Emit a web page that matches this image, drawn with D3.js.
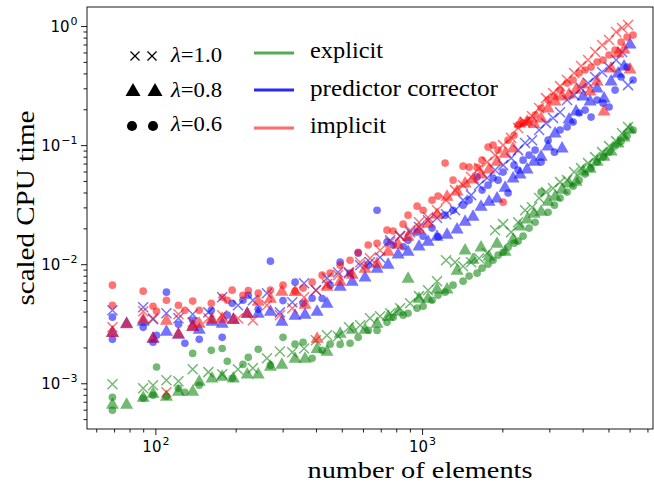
<!DOCTYPE html>
<html>
<head>
<meta charset="utf-8">
<script src="https://cdn.jsdelivr.net/npm/d3@7/dist/d3.min.js"></script>
<style>
body { margin: 0; background: #fff; }
</style>
</head>
<body>
<div id="chart"></div>
<script>
// Number of elements for each run, one list per lambda
var elems10 = [69, 90, 98, 110, 122, 138, 158, 178, 204, 232, 262, 293, 326, 361, 400, 440, 484, 532, 586, 638,
    696, 759, 827, 902, 974, 1053, 1138, 1230, 1330, 1425, 1527, 1636, 1753, 1878, 2013, 2157, 2291, 2434, 2585, 2747,
    2917, 3099, 3293, 3498, 3715, 3946, 4193, 4456, 4733, 5028, 5342, 5623, 5922];
var elems08 = [69, 78, 90, 98, 110, 122, 138, 146, 163, 178, 196, 221, 243, 270, 298, 334, 364, 404, 440, 493,
    547, 611, 678, 746, 813, 886, 974, 1053, 1138, 1241, 1353, 1450, 1553, 1664, 1783, 1911, 2048, 2194, 2331, 2476,
    2630, 2795, 2969, 3154, 3350, 3558, 3781, 4016, 4266, 4532, 4814, 5114, 5433, 5722, 6026];
var elems06 = [69, 69, 90, 98, 101, 110, 122, 129, 138, 146, 162, 178, 186, 194, 213, 223, 243, 270, 301, 334,
    358, 387, 422, 452, 493, 537, 576, 628, 678, 739, 779, 849, 886, 958, 1009, 1090, 1148, 1220, 1307, 1425,
    1501, 1608, 1679, 1768, 1846, 1928, 2013, 2102, 2213, 2291, 2392, 2520, 2654, 2795, 2969, 3136, 3293, 3498, 3684, 3880,
    4087, 4303, 4532, 4773, 5027, 5294, 5577, 5873, 6184];

// Scaled CPU time, explicit scheme
var explicit10 = [0.000981, 0.000908, 0.000962, 0.00106, 0.00104, 0.00131, 0.00124, 0.00119, 0.00131, 0.00134,
    0.00162, 0.00185, 0.00182, 0.00196, 0.00230, 0.00253, 0.00248, 0.00295, 0.00307, 0.00352,
    0.00366, 0.00387, 0.00427, 0.00470, 0.00539, 0.00605, 0.00720, 0.0108, 0.0104, 0.00962,
    0.0104, 0.0112, 0.0124, 0.0193, 0.0217, 0.0186, 0.0225, 0.0284, 0.0301, 0.0359,
    0.0403, 0.0435, 0.0489, 0.0508, 0.0594, 0.0641, 0.0706, 0.0793, 0.0873, 0.0981, 0.108, 0.126, 0.142];
var explicit08 = [0.000680, 0.000680, 0.000778, 0.000840, 0.000793, 0.000873, 0.000873, 0.00106, 0.00113, 0.00117,
    0.00113, 0.00122, 0.00122, 0.00142, 0.00147, 0.00165, 0.00165, 0.00200, 0.00189, 0.00268,
    0.00290, 0.00290, 0.00325, 0.00373, 0.00410, 0.00778, 0.00528, 0.00528, 0.00630, 0.00630,
    0.00908, 0.0134, 0.0112, 0.0142, 0.0119, 0.0153, 0.0131, 0.0165, 0.0213, 0.0244,
    0.0273, 0.0284, 0.0345, 0.0380, 0.0435, 0.0489, 0.0508, 0.0617, 0.0653, 0.0748,
    0.0824, 0.0908, 0.106, 0.119, 0.139];
var explicit06 = [0.000763, 0.000593, 0.000749, 0.000793, 0.00137, 0.000778, 0.000908, 0.000840, 0.00178, 0.000962,
    0.00189, 0.00196, 0.00153, 0.00110, 0.00144, 0.00165, 0.00193, 0.00142, 0.00243, 0.00213,
    0.00221, 0.00162, 0.00189, 0.00213, 0.00212, 0.00217, 0.00243, 0.00279, 0.00278, 0.00325,
    0.00359, 0.00373, 0.00387, 0.00427, 0.00443, 0.00498, 0.00549, 0.00582, 0.00667, 0.00720,
    0.00794, 0.00841, 0.00926, 0.0100, 0.0108, 0.0119, 0.0126, 0.0139, 0.0150, 0.0156,
    0.0172, 0.0201, 0.0225, 0.0403, 0.0273, 0.0313, 0.0359, 0.0403, 0.0452, 0.0508,
    0.0571, 0.0641, 0.0720, 0.0793, 0.0873, 0.0981, 0.108, 0.119, 0.134];

// Scaled CPU time, predictor corrector
var pc10 = [0.00410, 0.00435, 0.00345, 0.00387, 0.00352, 0.00380, 0.00394, 0.00528, 0.00452, 0.00498,
    0.00571, 0.00394, 0.00479, 0.00693, 0.00605, 0.00764, 0.00857, 0.00841, 0.00981, 0.0104,
    0.0114, 0.0159, 0.0172, 0.0186, 0.0205, 0.0234, 0.0244, 0.0263, 0.0284, 0.0345,
    0.0380, 0.0461, 0.0529, 0.0617, 0.0679, 0.0778, 0.0908, 0.104, 0.110, 0.134,
    0.153, 0.169, 0.189, 0.239, 0.263, 0.301, 0.332, 0.373, 0.411, 0.452, 0.518, 0.605, 0.319];
var pc08 = [0.00274, 0.00325, 0.00338, 0.00243, 0.00279, 0.00263, 0.00307, 0.00290, 0.00338, 0.00325,
    0.00352, 0.00394, 0.00394, 0.00410, 0.00338, 0.00380, 0.00387, 0.00410, 0.00479, 0.00667,
    0.00734, 0.00794, 0.00944, 0.0102, 0.0124, 0.0131, 0.0145, 0.0159, 0.0175, 0.0182,
    0.0201, 0.0234, 0.0258, 0.0313, 0.0345, 0.0366, 0.0452, 0.0539, 0.0582, 0.0641,
    0.0748, 0.0824, 0.100, 0.129, 0.0962, 0.169, 0.197, 0.263, 0.239, 0.307,
    0.253, 0.352, 0.411, 0.470, 0.720];
var pc06 = [0.00359, 0.00234, 0.00295, 0.00221, 0.00253, 0.00582, 0.00313, 0.00217, 0.00338, 0.00234,
    0.00410, 0.00243, 0.00373, 0.00470, 0.00498, 0.00549, 0.00418, 0.0106, 0.00495, 0.00706,
    0.00470, 0.00518, 0.00515, 0.00667, 0.0104, 0.00841, 0.0124, 0.00981, 0.0284, 0.0153,
    0.0145, 0.0140, 0.0159, 0.0186, 0.0172, 0.0201, 0.0170, 0.0258, 0.0284, 0.0313,
    0.0345, 0.0539, 0.0419, 0.0461, 0.0529, 0.0508, 0.0594, 0.0396, 0.0679, 0.0617,
    0.0748, 0.0824, 0.0908, 0.0720, 0.110, 0.0873, 0.134, 0.142, 0.156, 0.186,
    0.197, 0.172, 0.239, 0.225, 0.209, 0.290, 0.373, 0.452, 0.352];

// Scaled CPU time, implicit scheme
var implicit10 = [0.00295, 0.00402, 0.00352, 0.000840, 0.00380, 0.00325, 0.00352, 0.00373, 0.00352, 0.00338,
    0.00452, 0.00373, 0.00427, 0.00528, 0.00605, 0.00680, 0.00809, 0.00857, 0.0104, 0.0112,
    0.0131, 0.0153, 0.0172, 0.0193, 0.0225, 0.0248, 0.0284, 0.0345, 0.0419, 0.0461,
    0.0539, 0.0641, 0.0720, 0.0824, 0.100, 0.115, 0.139, 0.156, 0.175, 0.205,
    0.248, 0.274, 0.313, 0.352, 0.403, 0.461, 0.518, 0.605, 0.692, 0.763, 0.890, 0.962, 1.02];
var implicit08 = [0.00272, 0.00322, 0.00352, 0.00245, 0.00345, 0.00265, 0.00305, 0.00325, 0.00352, 0.00359,
    0.00350, 0.00394, 0.00498, 0.00528, 0.00605, 0.00600, 0.00470, 0.00243, 0.00667, 0.00734,
    0.00841, 0.00944, 0.0104, 0.0131, 0.0150, 0.0175, 0.0201, 0.0225, 0.0268, 0.0380,
    0.0419, 0.0489, 0.0529, 0.0582, 0.0641, 0.0748, 0.0873, 0.0962, 0.156, 0.162,
    0.155, 0.172, 0.209, 0.239, 0.263, 0.274, 0.301, 0.332, 0.290, 0.352,
    0.197, 0.452, 0.605, 0.654, 0.444];
var implicit06 = [0.00667, 0.00452, 0.00594, 0.00443, 0.00402, 0.00498, 0.00452, 0.00410, 0.00490, 0.00410,
    0.00470, 0.00528, 0.00498, 0.00605, 0.00549, 0.00600, 0.00571, 0.00605, 0.00667, 0.00594,
    0.00630, 0.00706, 0.00809, 0.00841, 0.00981, 0.0108, 0.0126, 0.0145, 0.0150, 0.0193,
    0.0190, 0.0217, 0.0258, 0.0307, 0.0284, 0.0345, 0.0373, 0.0706, 0.0508, 0.0666,
    0.0653, 0.0650, 0.0748, 0.0962, 0.100, 0.0908, 0.0332, 0.110, 0.121, 0.147,
    0.153, 0.162, 0.179, 0.205, 0.239, 0.258, 0.290, 0.332, 0.352, 0.403,
    0.427, 0.452, 0.498, 0.518, 0.571, 0.629, 0.733, 0.808, 0.840];

var methods = ["explicit", "predictor corrector", "implicit"];
var lambdas = ["1.0", "0.8", "0.6"];
var xMajor = [100, 1000];
var yMajor = [1e-3, 1e-2, 1e-1, 1];

var series = [
    {method: 0, lambda: 0, n: elems10, t: explicit10},
    {method: 0, lambda: 1, n: elems08, t: explicit08},
    {method: 0, lambda: 2, n: elems06, t: explicit06},
    {method: 1, lambda: 0, n: elems10, t: pc10},
    {method: 1, lambda: 1, n: elems08, t: pc08},
    {method: 1, lambda: 2, n: elems06, t: pc06},
    {method: 2, lambda: 0, n: elems10, t: implicit10},
    {method: 2, lambda: 1, n: elems08, t: implicit08},
    {method: 2, lambda: 2, n: elems06, t: implicit06}
];

var colors = ["rgb(0, 128, 0)", "rgb(0, 0, 255)", "rgb(255, 0, 0)"];
var lineColors = ["rgb(85, 170, 85)", "rgb(40, 40, 245)", "rgb(255, 105, 105)"];
var alpha = 0.55;

var width = 654, height = 487;
var box = {left: 87, top: 7, right: 653, bottom: 429};
var serif = "'Liberation Serif', 'DejaVu Serif', serif";
var sans = "'DejaVu Sans', sans-serif";

var svg = d3.select("#chart").append("svg")
    .attr("width", width)
    .attr("height", height)
    .style("display", "block");

var x = d3.scaleLog().domain([55.4, 7345]).range([box.left, box.right]);
var y = d3.scaleLog().domain([4.13e-4, 1.445]).range([box.bottom, box.top]);

// 2..9 times each power of ten inside the domain
function minorTicks(scale) {
    var dom = scale.domain(), out = [];
    for (var e = Math.floor(Math.log10(dom[0])); e <= Math.ceil(Math.log10(dom[1])); e++) {
        for (var k = 2; k <= 9; k++) {
            var v = k * Math.pow(10, e);
            if (v >= dom[0] && v <= dom[1]) out.push(v);
        }
    }
    return out;
}

// Axes
var gxMinor = svg.append("g").attr("transform", "translate(0," + box.bottom + ")")
    .call(d3.axisBottom(x).tickValues(minorTicks(x)).tickSize(3.5).tickFormat(""));
var gxMajor = svg.append("g").attr("transform", "translate(0," + box.bottom + ")")
    .call(d3.axisBottom(x).tickValues(xMajor).tickSize(6).tickFormat(""));
var gyMinor = svg.append("g").attr("transform", "translate(" + box.left + ",0)")
    .call(d3.axisLeft(y).tickValues(minorTicks(y)).tickSize(3.5).tickFormat(""));
var gyMajor = svg.append("g").attr("transform", "translate(" + box.left + ",0)")
    .call(d3.axisLeft(y).tickValues(yMajor).tickSize(6).tickFormat(""));

[gxMinor, gxMajor, gyMinor, gyMajor].forEach(function(g) {
    g.select(".domain").remove();
    g.selectAll(".tick line").attr("stroke", "#000").attr("stroke-width", 0.9);
});

// Tick labels as 10 with a superscript exponent
gxMajor.selectAll(".tick").append("text")
    .attr("y", 23)
    .attr("text-anchor", "middle")
    .style("font-family", sans)
    .style("font-size", "15px")
    .attr("fill", "#000")
    .each(function(d) {
        var t = d3.select(this);
        t.append("tspan").text("10");
        t.append("tspan").attr("dy", -7).attr("dx", 1).style("font-size", "11px")
            .text(String(Math.round(Math.log10(d))));
    });

gyMajor.selectAll(".tick").append("text")
    .attr("x", -9.5)
    .attr("dy", "0.35em")
    .attr("text-anchor", "end")
    .style("font-family", sans)
    .style("font-size", "15px")
    .attr("fill", "#000")
    .each(function(d) {
        var t = d3.select(this);
        var e = Math.round(Math.log10(d));
        t.append("tspan").text("10");
        t.append("tspan").attr("dy", -7).attr("dx", 1).style("font-size", "11px")
            .text(e < 0 ? "\u2212" + (-e) : String(e));
    });

// Frame
svg.append("rect")
    .attr("x", box.left)
    .attr("y", box.top)
    .attr("width", box.right - box.left)
    .attr("height", box.bottom - box.top)
    .attr("fill", "none")
    .attr("stroke", "#000")
    .attr("stroke-width", 0.9);

// Marker shapes for the three lambda values
var shapes = [
    "M-5,-5L5,5M-5,5L5,-5",
    "M0,-6L6.5,5.5L-6.5,5.5Z",
    d3.symbol().type(d3.symbolCircle).size(46)()
];

function styleMarker(sel, s, c) {
    if (s === 0) {
        sel.attr("fill", "none").attr("stroke", c).attr("stroke-width", 1.5).attr("stroke-opacity", alpha);
    } else {
        sel.attr("fill", c).attr("fill-opacity", alpha).attr("stroke", "none");
    }
}

var plot = svg.append("g");
series.forEach(function(s) {
    var pts = d3.zip(s.n, s.t);
    plot.append("g").selectAll("path")
        .data(pts)
        .join("path")
        .attr("d", shapes[s.lambda])
        .attr("transform", function(d) { return "translate(" + x(d[0]) + "," + y(d[1]) + ")"; })
        .call(styleMarker, s.lambda, colors[s.method]);
});

// Axis labels
svg.append("text")
    .attr("x", 420)
    .attr("y", 478)
    .attr("text-anchor", "middle")
    .attr("textLength", 225)
    .attr("lengthAdjust", "spacingAndGlyphs")
    .style("font-family", serif)
    .style("font-size", "23px")
    .text("number of elements");

svg.append("text")
    .attr("transform", "translate(34,208) rotate(-90)")
    .attr("text-anchor", "middle")
    .attr("textLength", 195)
    .attr("lengthAdjust", "spacingAndGlyphs")
    .style("font-family", serif)
    .style("font-size", "26px")
    .text("scaled CPU time");

// Legend for lambda (marker shape)
var legRows = [56, 90, 126];
var legBase = [62, 97, 131];
var legendMarkers = [
    "M-4.5,-4.5L4.5,4.5M-4.5,4.5L4.5,-4.5",
    "M0,-7L7.5,6L-7.5,6Z",
    d3.symbol().type(d3.symbolCircle).size(80)()
];
var markerX = [[135, 152], [133, 155], [132, 153]];
var legL = svg.append("g");
lambdas.forEach(function(l, i) {
    markerX[i].forEach(function(mx) {
        var m = legL.append("path")
            .attr("d", legendMarkers[i])
            .attr("transform", "translate(" + mx + "," + legRows[i] + ")");
        if (i === 0) m.attr("fill", "none").attr("stroke", "#000").attr("stroke-width", 1.3);
        else m.attr("fill", "#000");
    });
    var t = legL.append("text")
        .attr("x", 171)
        .attr("y", legBase[i])
        .attr("textLength", 51)
        .attr("lengthAdjust", "spacingAndGlyphs")
        .style("font-family", serif)
        .style("font-size", "21px");
    t.append("tspan").style("font-style", "italic").text("\u03bb");
    t.append("tspan").text("=" + l);
});

// Legend for method (line colour)
var lineRows = [53, 90, 128];
var textBase = [58, 96, 133];
var textLen = [73, 188, 76];
var legM = svg.append("g");
methods.forEach(function(m, i) {
    legM.append("line")
        .attr("x1", 254).attr("x2", 294)
        .attr("y1", lineRows[i]).attr("y2", lineRows[i])
        .attr("stroke", lineColors[i])
        .attr("stroke-width", 3);
    legM.append("text")
        .attr("x", 310)
        .attr("y", textBase[i])
        .attr("textLength", textLen[i])
        .attr("lengthAdjust", "spacingAndGlyphs")
        .style("font-family", serif)
        .style("font-size", "23px")
        .text(m);
});
</script>
</body>
</html>
